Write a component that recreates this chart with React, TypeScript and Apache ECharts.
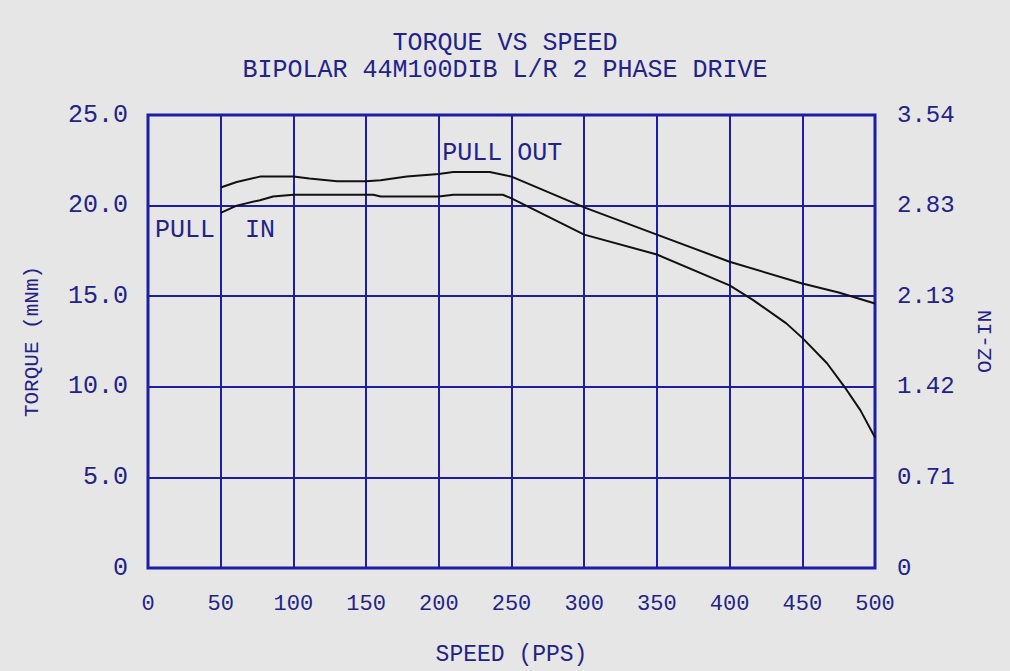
import React, { useEffect, useRef } from "react";
import * as echarts from "echarts";

const titleLines = ["TORQUE VS SPEED", "BIPOLAR 44M100DIB L/R 2 PHASE DRIVE"];
const xName = "SPEED (PPS)";
const yName = "TORQUE (mNm)";
const y2Name = "OZ-IN";
const rightTicks = ["0", "0.71", "1.42", "2.13", "2.83", "3.54"];

const pullOut: [number, number][] = [
  [50, 21.0], [61, 21.3], [77, 21.6], [100, 21.6], [111, 21.5], [130, 21.35],
  [150, 21.35], [160, 21.4], [178, 21.6], [200, 21.75], [210, 21.85], [235, 21.85],
  [250, 21.6], [300, 19.9], [350, 18.4], [400, 16.9], [450, 15.7], [475, 15.2], [500, 14.6],
];
const pullIn: [number, number][] = [
  [50, 19.6], [61, 20.0], [77, 20.3], [86, 20.5], [100, 20.6], [155, 20.6], [160, 20.5],
  [200, 20.5], [210, 20.6], [244, 20.6], [250, 20.4], [300, 18.4], [350, 17.3],
  [400, 15.6], [416, 14.8], [439, 13.5], [450, 12.7], [467, 11.3], [479, 10.0],
  [490, 8.7], [500, 7.2],
];
const annotationTexts = ["PULL  IN", "PULL OUT"];
const annotationCoords: [number, number][] = [[4.5, 18.6], [202, 22.9]];

const BLUE = "#1d1da8";
const TXT = "#22228a";
const FONT = "Liberation Mono, DejaVu Sans Mono, monospace";

export default function App() {
  const ref = useRef<HTMLDivElement>(null);
  useEffect(() => {
    const chart = echarts.init(ref.current!, null, { renderer: "svg" });
    const text = { color: TXT, fontFamily: FONT, fontSize: 23 };
    chart.setOption({
      animation: false,
      backgroundColor: "#e6e6e6",
      title: [
        { text: titleLines[0], left: "center", top: 30, padding: 0, textStyle: { ...text, fontWeight: "normal", fontSize: 25, lineHeight: 26 } },
        { text: titleLines[1], left: "center", top: 57, padding: 0, textStyle: { ...text, fontWeight: "normal", fontSize: 25, lineHeight: 26 } },
      ],
      grid: {
        left: 148, right: 135, top: 115, bottom: 103,
        show: true, borderColor: BLUE, borderWidth: 3, backgroundColor: "transparent",
      },
      xAxis: {
        type: "value", min: 0, max: 500, interval: 50,
        name: xName, nameLocation: "middle", nameGap: 75,
        nameTextStyle: { ...text, fontSize: 23 },
        axisLine: { show: false }, axisTick: { show: false },
        axisLabel: { ...text, fontSize: 22, margin: 25 },
        splitLine: { show: true, lineStyle: { color: BLUE, width: 2 } },
      },
      yAxis: [
        {
          type: "value", min: 0, max: 25, interval: 5, position: "left",
          name: yName, nameLocation: "middle", nameGap: 105, nameRotate: 90,
          nameTextStyle: { ...text, fontSize: 21 },
          axisLine: { show: false }, axisTick: { show: false },
          axisLabel: { ...text, fontSize: 25, margin: 20, formatter: (v: number) => (v === 0 ? "0" : v.toFixed(1)) },
          splitLine: { show: true, lineStyle: { color: BLUE, width: 2 } },
        },
        {
          type: "value", min: 0, max: 25, interval: 5, position: "right",
          name: y2Name, nameLocation: "middle", nameGap: 100, nameRotate: 90,
          nameTextStyle: { ...text, fontSize: 21 },
          axisLine: { show: false }, axisTick: { show: false },
          axisLabel: { ...text, fontSize: 24, margin: 22, formatter: (v: number) => rightTicks[Math.round(v / 5)] },
          splitLine: { show: false },
        },
      ],
      series: [
        { type: "line", name: "PULL OUT", data: pullOut, symbol: "none", lineStyle: { color: "#111", width: 2 } },
        { type: "line", name: "PULL IN", data: pullIn, symbol: "none", lineStyle: { color: "#111", width: 2 } },
        {
          type: "scatter", name: "labels", symbolSize: 1, itemStyle: { color: "transparent", opacity: 1 },
          silent: true,
          data: annotationCoords.map((c, i) => ({ value: c, name: annotationTexts[i] })),
          label: { show: true, position: "right", distance: 0, opacity: 1, ...text, fontSize: 25, formatter: (p: any) => p.name },
        },
      ],
    });
    return () => chart.dispose();
  }, []);
  return <div ref={ref} style={{ position: "fixed", left: 0, top: 0, width: 1010, height: 671 }} />;
}
